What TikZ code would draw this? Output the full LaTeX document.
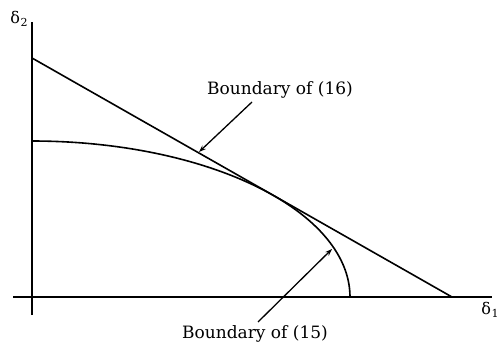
\documentclass[tikz,border=0pt]{standalone}
\usepackage{fontspec}
\setmainfont{DejaVu Serif}
\usetikzlibrary{arrows.meta}
\newcommand{\dsub}[1]{δ\kern0.5pt\raisebox{-3pt}{\fontsize{11}{12}\selectfont #1}}
\begin{document}
\begin{tikzpicture}[x=1pt,y=-1pt,
  axis/.style={line width=1.7pt},
  curve/.style={line width=1.6pt},
  pointer/.style={line width=1.3pt,-{Stealth[length=7pt,width=5pt]}},
  lbl/.style={inner sep=0pt,font=\fontsize{17}{20}\selectfont},
  axlbl/.style={inner sep=0pt,font=\fontsize{16}{18}\selectfont}]
\useasboundingbox (0,0) rectangle (504,345);
% axes
\coordinate (ytop) at (32,22);
\coordinate (ybot) at (32,315);
\coordinate (xl) at (13,297);
\coordinate (xr) at (492,297);
\draw[axis] (ybot) -- (ytop);
\draw[axis] (xl) -- (xr);
\node[axlbl] (d2) at (19,19) {\dsub{2}};
\node[axlbl] (d1) at (490,310) {\dsub{1}};
% boundary of (16): straight line
\coordinate (lA) at (32,58);
\coordinate (lB) at (452,297);
\draw[curve] (lA) -- (lB);
% boundary of (15): quarter ellipse
\draw[curve] plot[domain=0:90,samples=80,smooth] ({32+318*cos(\x)},{297-156*sin(\x)});
% labels
\node[lbl] (t16) at (280,90) {Boundary of (16)};
\node[lbl] (t15) at (255,334) {Boundary of (15)};
\coordinate (p16s) at (252,102);
\coordinate (p16e) at (199,152);
\coordinate (p15s) at (258,322);
\coordinate (p15e) at (332,249);
\draw[pointer] (p16s) -- (p16e);
\draw[pointer] (p15s) -- (p15e);
\end{tikzpicture}
\end{document}
